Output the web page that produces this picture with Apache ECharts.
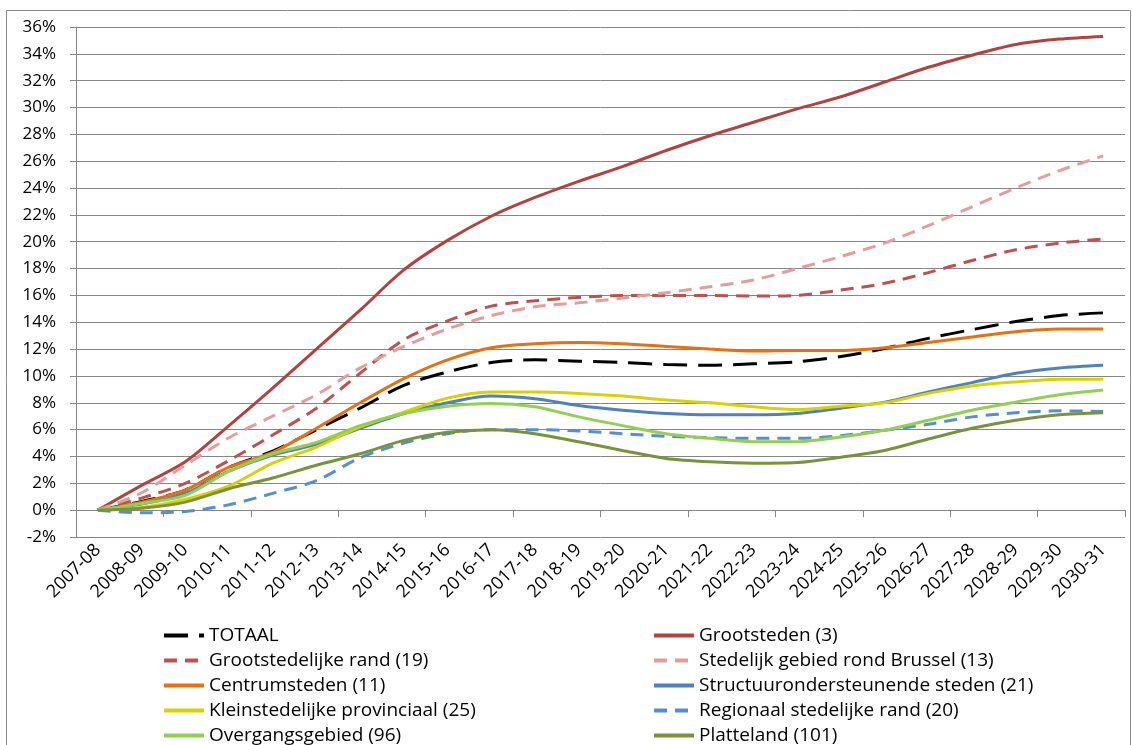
<!DOCTYPE html>
<html>
<head>
<meta charset="utf-8">
<script src="https://cdn.jsdelivr.net/npm/echarts@6/dist/echarts.min.js"></script>
<style>
html,body{margin:0;padding:0;background:#fff;}
#chart{width:1132px;height:745px;}
</style>
</head>
<body>
<div id="chart"></div>
<script>
var categories = ['2007-08','2008-09','2009-10','2010-11','2011-12','2012-13','2013-14','2014-15','2015-16','2016-17','2017-18','2018-19','2019-20','2020-21','2021-22','2022-23','2023-24','2024-25','2025-26','2026-27','2027-28','2028-29','2029-30','2030-31'];
var yTicks = {min: -2, max: 36, interval: 2};

var totaal = [0, 0.65, 1.5, 3.2, 4.4, 6.0, 7.6, 9.3, 10.3, 11.0, 11.2, 11.1, 11.0, 10.85, 10.8, 10.9, 11.05, 11.45, 12.05, 12.8, 13.45, 14.05, 14.5, 14.7];
var grootsteden = [0, 1.85, 3.6, 6.3, 9.1, 12.0, 14.9, 17.9, 20.1, 21.9, 23.3, 24.5, 25.6, 26.8, 27.9, 28.9, 29.9, 30.8, 31.9, 33.0, 33.9, 34.7, 35.1, 35.3];
var grootstedelijkeRand = [0, 0.9, 2.0, 3.7, 5.6, 7.6, 10.2, 12.7, 14.1, 15.2, 15.6, 15.85, 16.0, 16.0, 16.0, 15.95, 16.0, 16.4, 16.9, 17.7, 18.6, 19.4, 19.9, 20.2];
var rondBrussel = [0, 1.3, 3.35, 5.4, 7.0, 8.6, 10.6, 12.2, 13.5, 14.5, 15.15, 15.45, 15.8, 16.2, 16.65, 17.15, 18.0, 18.9, 19.9, 21.2, 22.6, 24.0, 25.3, 26.4];
var centrumsteden = [0, 0.6, 1.5, 3.2, 4.3, 6.1, 8.0, 9.8, 11.2, 12.1, 12.4, 12.5, 12.4, 12.2, 12.0, 11.85, 11.9, 11.9, 12.1, 12.5, 12.9, 13.3, 13.5, 13.5];
var structuur = [0, 0.45, 1.25, 2.9, 4.1, 4.9, 6.1, 7.2, 8.0, 8.5, 8.3, 7.8, 7.45, 7.2, 7.1, 7.1, 7.2, 7.6, 8.05, 8.8, 9.5, 10.2, 10.6, 10.8];
var kleinstedelijk = [0, 0.2, 0.8, 1.8, 3.5, 4.7, 6.2, 7.3, 8.35, 8.8, 8.8, 8.7, 8.5, 8.2, 8.0, 7.7, 7.5, 7.75, 8.0, 8.7, 9.25, 9.55, 9.75, 9.75];
var regionaalRand = [0, -0.2, -0.1, 0.4, 1.25, 2.2, 3.9, 5.0, 5.7, 6.0, 6.0, 5.9, 5.7, 5.5, 5.4, 5.35, 5.35, 5.55, 5.95, 6.4, 6.95, 7.25, 7.4, 7.35];
var overgang = [0, 0.5, 1.1, 2.9, 4.2, 5.05, 6.3, 7.2, 7.75, 7.95, 7.7, 6.95, 6.3, 5.7, 5.35, 5.1, 5.1, 5.45, 5.95, 6.7, 7.45, 8.05, 8.6, 8.95];
var platteland = [0, 0.15, 0.6, 1.6, 2.4, 3.35, 4.2, 5.2, 5.8, 6.0, 5.7, 5.1, 4.45, 3.85, 3.6, 3.5, 3.55, 3.95, 4.45, 5.3, 6.1, 6.7, 7.1, 7.25];

var names = ['TOTAAL','Grootsteden (3)','Grootstedelijke rand (19)','Stedelijk gebied rond Brussel (13)','Centrumsteden (11)','Structuurondersteunende steden (21)','Kleinstedelijke provinciaal (25)','Regionaal stedelijke rand (20)','Overgangsgebied (96)','Platteland (101)'];
var values = [totaal, grootsteden, grootstedelijkeRand, rondBrussel, centrumsteden, structuur, kleinstedelijk, regionaalRand, overgang, platteland];
var colors = ['#000000','#B3423F','#C0504D','#E59C9A','#E8700F','#4F81BD','#D8D200','#558ED5','#92D050','#77933C'];
var dashes = [[24,11], null, [13,8], [13,8], null, null, null, [13,8], null, null];

var FONT = "'Open Sans', sans-serif";

var series = names.map(function(n, i){
  return {
    name: n, type: 'line', data: values[i], xAxisIndex: 0,
    smooth: 0.3, symbol: 'none',
    lineStyle: {color: colors[i], width: 3, type: dashes[i] || 'solid'},
    itemStyle: {color: colors[i]}
  };
});

// legend: 2 columns x 5 rows
var legends = names.map(function(n, i){
  var col = i % 2, row = Math.floor(i / 2);
  return {
    data: [n], orient: 'horizontal',
    left: col === 0 ? 162 : 652, top: 626 + row * 25,
    itemWidth: 40, itemHeight: 14, itemGap: 0, padding: 0,
    itemStyle: {opacity: 0},
    lineStyle: {width: 4},
    textStyle: {fontFamily: FONT, fontSize: 19, color: '#000'}
  };
});

var chart = echarts.init(document.getElementById('chart'));
chart.setOption({
  animation: false,
  backgroundColor: '#fff',
  graphic: [{type: 'rect', shape: {x: 6.5, y: 10.5, width: 1124, height: 760}, style: {fill: 'none', stroke: '#8c8c8c', lineWidth: 1}, silent: true}],
  grid: {left: 76, right: 7, top: 27, bottom: 208, containLabel: false},
  xAxis: [{
    type: 'category', data: categories, boundaryGap: true,
    axisLine: {onZero: true, lineStyle: {color: '#868686', width: 1}},
    axisTick: {show: true, length: 7, lineStyle: {color: '#868686'}},
    axisLabel: {show: false}, splitLine: {show: false}
  }, {
    type: 'category', data: categories, boundaryGap: true, position: 'bottom',
    axisLine: {show: false, onZero: false}, axisTick: {show: false},
    axisLabel: {show: true, rotate: 45, interval: 0, margin: 10, fontFamily: FONT, fontSize: 18, color: '#000'},
    splitLine: {show: false}
  }],
  yAxis: {
    type: 'value', min: yTicks.min, max: yTicks.max, interval: yTicks.interval,
    axisLine: {show: true, lineStyle: {color: '#868686'}},
    axisTick: {show: true, length: 6, lineStyle: {color: '#868686'}},
    axisLabel: {formatter: '{value}%', fontFamily: FONT, fontSize: 17, color: '#000', margin: 20},
    splitLine: {lineStyle: {color: '#868686', width: 1}}
  },
  legend: legends,
  series: series
});
</script>
</body>
</html>
